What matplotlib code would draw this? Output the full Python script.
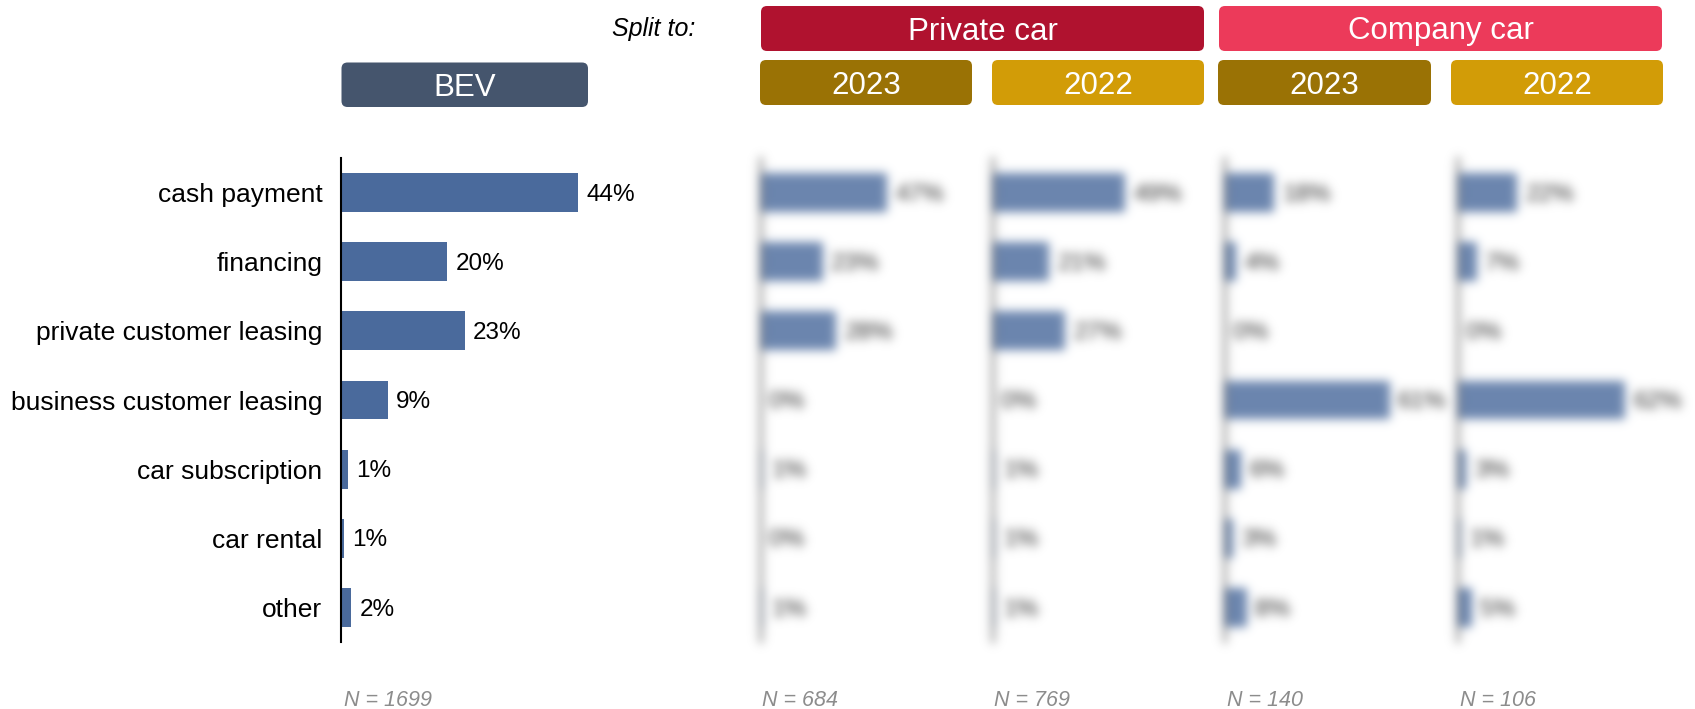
import numpy as np
import matplotlib
matplotlib.use('Agg')
import matplotlib.pyplot as plt
from matplotlib.patches import FancyBboxPatch

plt.rcParams['font.family'] = ['Liberation Sans', 'DejaVu Sans']

categories = ['cash payment', 'financing', 'private customer leasing',
              'business customer leasing', 'car subscription', 'car rental', 'other']
bev = [44.0, 19.8, 23.0, 8.8, 1.4, 0.6, 2.0]
private_2023 = [47, 23, 28, 0, 1, 0, 1]
private_2022 = [49, 21, 27, 0, 1, 1, 1]
company_2023 = [18, 4, 0, 61, 6, 3, 8]
company_2022 = [22, 7, 0, 62, 3, 1, 5]
sample_sizes = [1699, 684, 769, 140, 106]

BAR = '#4A6A9C'
W, H = 1695, 709


def px_axes(fig, left, top, width, bottom):
    # axes placed by pixel edges (y measured from the top)
    return fig.add_axes([left / W, 1 - bottom / H, width / W, (bottom - top) / H])


def bar_panel(ax, values, xmax, show_labels=False):
    y = np.arange(len(values))
    ax.barh(y, values, height=0.56, color=BAR, edgecolor='none')
    for yi, v in zip(y, values):
        ax.annotate(f'{v:.0f}%', xy=(v, yi), xytext=(6, -1.5), textcoords='offset points',
                    va='center', ha='left', fontsize=17.5, color='black')
    ax.set_xlim(0, xmax)
    ax.set_ylim(len(values) - 0.5, -0.5)
    for s in ['top', 'right', 'bottom']:
        ax.spines[s].set_visible(False)
    ax.spines['left'].set_linewidth(1.5)
    ax.set_xticks([])
    ax.tick_params(axis='y', length=0, pad=13)
    if show_labels:
        ax.set_yticks(y)
        ax.set_yticklabels(categories, fontsize=19)
    else:
        ax.set_yticks([])


fig = plt.figure(figsize=(W / 100, H / 100), dpi=100)

ax0 = px_axes(fig, 340.5, 158, 270, 642)
bar_panel(ax0, bev, 50, show_labels=True)

panel_left = [760.5, 992.5, 1225, 1458]
panel_data = [private_2023, private_2022, company_2023, company_2022]
for left, vals in zip(panel_left, panel_data):
    ax = px_axes(fig, left, 158, 216, 642)
    bar_panel(ax, vals, 80)

# header boxes and footnotes drawn in pixel space
top = fig.add_axes([0, 0, 1, 1], zorder=-1)
top.set_xlim(0, W)
top.set_ylim(H, 0)
top.axis('off')


def header(x0, x1, y0, y1, text, color):
    top.add_patch(FancyBboxPatch((x0, y0), x1 - x0, y1 - y0,
                                 boxstyle='round,pad=0,rounding_size=6',
                                 facecolor=color, edgecolor='none'))
    top.text((x0 + x1) / 2, (y0 + y1) / 2 + 3, text, color='white', fontsize=22.5,
             ha='center', va='center')


header(341.5, 588, 62.5, 107, 'BEV', '#45556D')
header(761, 1204, 6, 51, 'Private car', '#B0122F')
header(1219, 1662, 6, 51, 'Company car', '#EC3A5A')
header(760, 972, 60, 105, '2023', '#9A7205')
header(992, 1204, 60, 105, '2022', '#D29C07')
header(1218, 1431, 60, 105, '2023', '#9A7205')
header(1451, 1663, 60, 105, '2022', '#D29C07')

top.text(695, 29, 'Split to:', fontsize=18, style='italic', ha='right', va='center')

for x, n in zip([344] + [p + 2 for p in panel_left], sample_sizes):
    top.text(x, 700, f'N = {n}', fontsize=15.5, style='italic', color='#8C8C8C',
             ha='left', va='center')

fig.canvas.draw()
img = np.asarray(fig.canvas.buffer_rgba())[..., :3].astype(float) / 255


def gaussian_blur(a, sigma):
    r = int(3 * sigma)
    k = np.exp(-0.5 * (np.arange(-r, r + 1) / sigma) ** 2)
    k /= k.sum()
    h, w = a.shape[:2]
    p = np.pad(a, ((r, r), (r, r), (0, 0)), mode='edge')
    tmp = sum(k[j] * p[:, j:j + w] for j in range(2 * r + 1))
    return sum(k[j] * tmp[j:j + h] for j in range(2 * r + 1))


# the split panels are shown blurred
y0, y1, x0, x1 = 125, 665, 700, W
region = gaussian_blur(img[y0:y1, x0:x1], 5)
img[y0:y1, x0:x1] = region * 0.82 + 0.18

out = np.round(np.clip(img, 0, 1) * 255).astype(np.uint8)
plt.imsave('out.png', out)
